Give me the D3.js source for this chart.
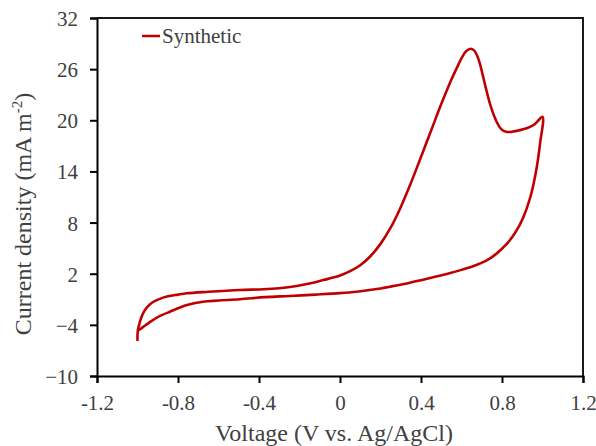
<!DOCTYPE html>
<html>
<head>
<meta charset="utf-8">
<script src="https://cdn.jsdelivr.net/npm/d3@7"></script>
<style>
  body { margin: 0; background: #fff; }
  svg text { font-family: "Liberation Serif", "Times New Roman", serif; fill: #404040; }
</style>
</head>
<body>
<div id="chart"></div>
<script>
// tension (V vs Ag/AgCl) et densite de courant, lus sur la figure
// balayage aller (de -1.0 V vers 1.0 V)
var voltageAller = [-1.0, -1.0, -0.998, -0.992, -0.982, -0.968, -0.95, -0.925, -0.89, -0.85, -0.80, -0.757, -0.65,
    -0.494, -0.379, -0.30, -0.214, -0.15, -0.082, 0.0, 0.05, 0.10, 0.15, 0.20, 0.25, 0.296, 0.346, 0.40, 0.45,
    0.50, 0.545, 0.58, 0.605, 0.625, 0.645, 0.662, 0.677, 0.69, 0.705, 0.72, 0.745, 0.774, 0.795, 0.82, 0.85, 0.88,
    0.922, 0.96, 1.0];
var courantAller = [-5.9, -5.2, -4.6, -4.0, -3.2, -2.45, -1.85, -1.35, -0.95, -0.65, -0.45, -0.30, -0.12,
    0.09, 0.17, 0.30, 0.56, 0.85, 1.26, 1.79, 2.3, 3.0, 4.05, 5.5, 7.4, 9.6, 12.4, 15.7, 18.8,
    21.9, 24.5, 26.3, 27.5, 28.15, 28.4, 28.2, 27.6, 26.7, 25.3, 23.8, 21.6, 19.8, 19.0, 18.65, 18.65, 18.8,
    19.06, 19.5, 20.4];
// balayage retour (de 1.0 V vers -1.0 V)
var voltageRetour = [0.988, 0.968, 0.94, 0.905, 0.865, 0.82, 0.77, 0.72, 0.66, 0.60, 0.54, 0.48, 0.41,
    0.33, 0.247, 0.164, 0.082, 0.0, -0.12, -0.247, -0.37, -0.494, -0.60, -0.677, -0.76, -0.84, -0.90, -0.94,
    -0.975, -0.998];
var courantRetour = [17.3, 14.0, 11.0, 8.6, 6.8, 5.4, 4.3, 3.5, 2.9, 2.45, 2.05, 1.7, 1.3,
    0.85, 0.48, 0.15, -0.11, -0.28, -0.45, -0.61, -0.75, -1.0, -1.15, -1.28, -1.7, -2.46, -3.1, -3.7,
    -4.3, -4.7];

var xTicks = [-1.2, -0.8, -0.4, 0, 0.4, 0.8, 1.2];
var yTicks = [-10, -4, 2, 8, 14, 20, 26, 32];
var seriesName = "Synthetic";

// Dimensions
var margin = { top: 18, right: 13, bottom: 70, left: 97 },
    width = 596 - margin.left - margin.right,
    height = 446 - margin.top - margin.bottom;

var x = d3.scaleLinear().domain([-1.2, 1.2]).range([0, width]);
var y = d3.scaleLinear().domain([-10, 32]).range([height, 0]);

var svg = d3.select("#chart").append("svg")
    .attr("width", 596)
    .attr("height", 446);

var g = svg.append("g")
    .attr("transform", "translate(" + margin.left + "," + margin.top + ")");

// cadre haut et droite
g.append("path")
    .attr("d", "M0,0H" + width + "V" + height)
    .attr("fill", "none")
    .attr("stroke", "#1a1a1a")
    .attr("stroke-width", 2);

// axes
var xAxis = g.append("g")
    .attr("transform", "translate(0," + height + ")")
    .call(d3.axisBottom(x).tickValues(xTicks).tickSize(7).tickPadding(12)
        .tickFormat(function (d) { return d === 0 ? "0" : String(d); }));

var yAxis = g.append("g")
    .call(d3.axisLeft(y).tickValues(yTicks).tickSize(7).tickPadding(12));

[xAxis, yAxis].forEach(function (a) {
    a.select(".domain").attr("stroke", "#000").attr("stroke-width", 2);
    a.selectAll(".tick line").attr("stroke", "#000").attr("stroke-width", 2);
    a.selectAll(".tick text")
        .style("font-family", "'Liberation Serif', 'Times New Roman', serif")
        .style("font-size", "21px")
        .attr("fill", "#404040");
});
yAxis.selectAll(".tick text").attr("dy", "0.36em");

// courbe (aller puis retour)
var pts = voltageAller.map(function (v, i) { return [v, courantAller[i]]; })
    .concat(voltageRetour.map(function (v, i) { return [v, courantRetour[i]]; }));

var line = d3.line()
    .x(function (d) { return x(d[0]); })
    .y(function (d) { return y(d[1]); })
    .curve(d3.curveCatmullRom.alpha(0.5));

g.append("path")
    .datum(pts)
    .attr("d", line)
    .attr("fill", "none")
    .attr("stroke", "#c00000")
    .attr("stroke-width", 2.6)
    .attr("stroke-linejoin", "round");

// légende
var legend = g.append("g").attr("transform", "translate(45,18)");
legend.append("line")
    .attr("x1", 0).attr("x2", 18)
    .attr("stroke", "#c00000").attr("stroke-width", 2.5);
legend.append("text")
    .attr("x", 20).attr("dy", "0.33em")
    .style("font-size", "21px")
    .text(seriesName);

// titres des axes
svg.append("text")
    .attr("x", 334).attr("y", 441)
    .attr("text-anchor", "middle")
    .style("font-size", "24px")
    .text("Voltage  (V vs. Ag/AgCl)");

var yt = svg.append("text")
    .attr("transform", "translate(31,214) rotate(-90)")
    .attr("text-anchor", "middle")
    .style("font-size", "24px");
yt.append("tspan").text("Current density  (mA m");
yt.append("tspan").attr("dy", -9).style("font-size", "15px").text("-2");
yt.append("tspan").attr("dy", 9).text(")");
</script>
</body>
</html>
